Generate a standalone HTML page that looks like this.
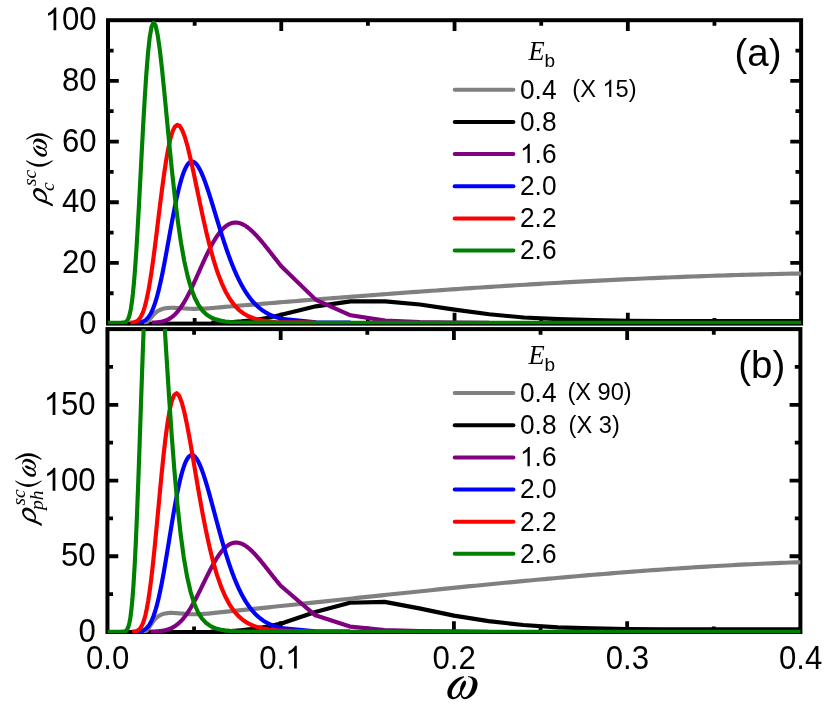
<!DOCTYPE html><html><head><meta charset="utf-8"><title>chart</title><style>html,body{margin:0;padding:0;background:#fff}svg{display:block}#w{will-change:transform;width:830px;height:710px;background:#fff}</style></head><body><div id="w"><svg width="830" height="710" viewBox="0 0 830 710">
<rect width="830" height="710" fill="#fff"/>
<defs><path id="om" d="M432,147 C300,150 140,300 133,435 C128,515 170,562 235,562 C295,562 345,525 372,478 C380,535 405,562 448,562 C560,562 678,430 678,285 C678,195 610,143 506,149 L502,163 C563,170 591,204 591,258 C591,365 515,527 452,527 C415,527 392,495 392,455 C400,400 470,330 470,262 C470,240 458,227 445,227 C415,227 358,330 362,405 C348,452 300,527 255,527 C225,527 212,500 212,455 C212,345 342,212 437,166 Z"/><clipPath id="ct"><rect x="108.0" y="20.2" width="693.7" height="304.1"/></clipPath><clipPath id="cb"><rect x="107.45" y="329.1" width="693.55" height="304.19999999999993"/></clipPath></defs>
<rect x="108.0" y="20.2" width="693.10" height="303.40" fill="none" stroke="#000" stroke-width="4"/>
<g stroke="#000" stroke-width="3.8" fill="none"><path d="M281.27,323.6 v-10.8 M281.27,20.2 v10.8"/><path d="M454.55,323.6 v-10.8 M454.55,20.2 v10.8"/><path d="M627.82,323.6 v-10.8 M627.82,20.2 v10.8"/><path d="M194.64,323.6 v-5.6 M194.64,20.2 v5.6"/><path d="M367.91,323.6 v-5.6 M367.91,20.2 v5.6"/><path d="M541.19,323.6 v-5.6 M541.19,20.2 v5.6"/><path d="M714.46,323.6 v-5.6 M714.46,20.2 v5.6"/><path d="M108.0,262.92 h10.8 M801.1,262.92 h-10.8"/><path d="M108.0,202.24 h10.8 M801.1,202.24 h-10.8"/><path d="M108.0,141.56 h10.8 M801.1,141.56 h-10.8"/><path d="M108.0,80.88 h10.8 M801.1,80.88 h-10.8"/><path d="M108.0,293.26 h5.6 M801.1,293.26 h-5.6"/><path d="M108.0,232.58 h5.6 M801.1,232.58 h-5.6"/><path d="M108.0,171.90 h5.6 M801.1,171.90 h-5.6"/><path d="M108.0,111.22 h5.6 M801.1,111.22 h-5.6"/><path d="M108.0,50.54 h5.6 M801.1,50.54 h-5.6"/></g>
<rect x="107.45" y="329.1" width="692.95" height="302.90" fill="none" stroke="#000" stroke-width="4"/>
<g stroke="#000" stroke-width="3.8" fill="none"><path d="M280.69,632.0 v-10.8 M280.69,329.1 v10.8"/><path d="M453.92,632.0 v-10.8 M453.92,329.1 v10.8"/><path d="M627.16,632.0 v-10.8 M627.16,329.1 v10.8"/><path d="M194.07,632.0 v-5.6 M194.07,329.1 v5.6"/><path d="M367.31,632.0 v-5.6 M367.31,329.1 v5.6"/><path d="M540.54,632.0 v-5.6 M540.54,329.1 v5.6"/><path d="M713.78,632.0 v-5.6 M713.78,329.1 v5.6"/><path d="M107.45,556.27 h10.8 M800.4,556.27 h-10.8"/><path d="M107.45,480.55 h10.8 M800.4,480.55 h-10.8"/><path d="M107.45,404.83 h10.8 M800.4,404.83 h-10.8"/><path d="M107.45,594.14 h5.6 M800.4,594.14 h-5.6"/><path d="M107.45,518.41 h5.6 M800.4,518.41 h-5.6"/><path d="M107.45,442.69 h5.6 M800.4,442.69 h-5.6"/><path d="M107.45,366.96 h5.6 M800.4,366.96 h-5.6"/></g>
<g>
<path d="M143.88,322.69 L144.59,322.61 L145.31,322.46 L146.03,322.26 L146.75,322.02 L147.46,321.69 L148.18,321.06 L148.90,320.24 L149.62,319.34 L150.33,318.45 L151.05,317.66 L151.77,316.84 L152.49,315.99 L153.20,315.14 L153.92,314.32 L154.64,313.56 L155.36,312.89 L156.07,312.31 L156.79,311.77 L157.51,311.27 L158.23,310.81 L158.94,310.40 L159.66,310.04 L160.38,309.73 L161.10,309.45 L161.81,309.18 L162.53,308.93 L163.25,308.72 L163.97,308.54 L164.68,308.40 L165.40,308.30 L166.12,308.20 L166.84,308.10 L167.55,308.02 L168.27,307.94 L168.99,307.88 L169.71,307.83 L170.42,307.79 L171.14,307.77 L171.86,307.77 L172.58,307.78 L173.29,307.79 L174.01,307.81 L174.73,307.84 L175.45,307.88 L176.16,307.92 L176.88,307.96 L177.60,308.00 L178.32,308.04 L179.03,308.09 L179.75,308.13 L180.47,308.17 L181.19,308.21 L181.90,308.25 L182.62,308.29 L183.34,308.33 L184.06,308.38 L184.77,308.43 L185.49,308.47 L186.21,308.52 L186.93,308.57 L187.64,308.62 L188.36,308.66 L189.08,308.71 L189.80,308.74 L190.51,308.77 L191.23,308.80 L191.95,308.82 L192.67,308.83 L193.39,308.83 L194.10,308.83 L194.82,308.83 L195.54,308.82 L196.26,308.81 L196.97,308.79 L197.69,308.78 L198.41,308.76 L199.13,308.74 L199.84,308.71 L200.56,308.69 L201.28,308.67 L202.00,308.64 L202.71,308.61 L203.43,308.59 L204.15,308.56 L204.87,308.53 L205.58,308.50 L206.30,308.46 L207.02,308.42 L207.74,308.38 L208.45,308.33 L209.17,308.28 L209.89,308.22 L210.61,308.16 L211.32,308.10 L212.04,308.04 L212.76,307.97 L213.48,307.91 L214.19,307.84 L214.91,307.77 L219.84,307.35 L224.76,306.93 L229.69,306.52 L234.61,306.10 L239.54,305.69 L244.47,305.28 L249.39,304.87 L254.32,304.46 L259.24,304.05 L264.17,303.65 L269.10,303.24 L274.02,302.84 L278.95,302.43 L283.87,302.03 L288.80,301.63 L293.73,301.23 L298.65,300.84 L303.58,300.44 L308.50,300.05 L313.43,299.66 L318.36,299.27 L323.28,298.88 L328.21,298.49 L333.13,298.10 L338.06,297.72 L342.99,297.34 L347.91,296.96 L352.84,296.58 L357.76,296.20 L362.69,295.83 L367.62,295.46 L372.54,295.09 L377.47,294.72 L382.39,294.35 L387.32,293.98 L392.25,293.62 L397.17,293.26 L402.10,292.90 L407.02,292.55 L411.95,292.19 L416.88,291.84 L421.80,291.49 L426.73,291.14 L431.65,290.80 L436.58,290.45 L441.50,290.11 L446.43,289.77 L451.36,289.44 L456.28,289.10 L461.21,288.77 L466.13,288.44 L471.06,288.12 L475.99,287.79 L480.91,287.47 L485.84,287.16 L490.76,286.84 L495.69,286.53 L500.62,286.22 L505.54,285.91 L510.47,285.60 L515.39,285.30 L520.32,285.00 L525.25,284.70 L530.17,284.41 L535.10,284.12 L540.02,283.83 L544.95,283.55 L549.88,283.26 L554.80,282.98 L559.73,282.71 L564.65,282.43 L569.58,282.16 L574.51,281.90 L579.43,281.63 L584.36,281.37 L589.28,281.12 L594.21,280.86 L599.14,280.61 L604.06,280.36 L608.99,280.12 L613.91,279.88 L618.84,279.64 L623.77,279.40 L628.69,279.17 L633.62,278.95 L638.54,278.72 L643.47,278.50 L648.40,278.28 L653.32,278.07 L658.25,277.86 L663.17,277.66 L668.10,277.45 L673.03,277.25 L677.95,277.06 L682.88,276.87 L687.80,276.68 L692.73,276.50 L697.65,276.32 L702.58,276.14 L707.51,275.97 L712.43,275.80 L717.36,275.63 L722.28,275.47 L727.21,275.32 L732.14,275.17 L737.06,275.02 L741.99,274.87 L746.91,274.73 L751.84,274.60 L756.77,274.46 L761.69,274.34 L766.62,274.21 L771.54,274.09 L776.47,273.98 L781.40,273.87 L786.32,273.76 L791.25,273.66 L796.17,273.56 L801.10,273.47" fill="none" stroke="#808080" stroke-width="4.15" stroke-linejoin="round" stroke-linecap="butt" clip-path="url(#ct)"/>
<path d="M211.38,322.63 L212.84,322.61 L214.29,322.58 L215.75,322.56 L217.21,322.53 L218.66,322.50 L220.12,322.47 L221.58,322.44 L223.03,322.40 L224.49,322.36 L225.94,322.31 L227.40,322.26 L228.86,322.20 L230.31,322.14 L231.77,322.07 L233.22,321.98 L234.68,321.89 L236.14,321.79 L237.59,321.68 L239.05,321.57 L240.50,321.45 L241.96,321.32 L243.42,321.19 L244.87,321.05 L246.33,320.91 L247.78,320.76 L249.24,320.60 L250.70,320.43 L252.15,320.25 L253.61,320.06 L255.07,319.85 L256.52,319.64 L257.98,319.42 L259.43,319.20 L260.89,318.96 L262.35,318.72 L263.80,318.48 L265.26,318.23 L266.71,317.97 L268.17,317.70 L269.63,317.42 L271.08,317.12 L272.54,316.82 L273.99,316.51 L275.45,316.19 L276.91,315.86 L278.36,315.52 L279.82,315.17 L281.27,314.82 L315.93,306.34 L350.59,301.34 L385.24,301.34 L419.89,304.52 L454.55,309.67 L489.20,314.22 L523.86,317.55 L558.52,319.06 L593.17,320.12 L627.82,320.73 L662.48,321.03 L731.79,321.19 L801.10,321.19" fill="none" stroke="#000000" stroke-width="4.15" stroke-linejoin="round" stroke-linecap="butt" clip-path="url(#ct)"/>
<path d="M151.75,322.62 L152.19,322.61 L152.62,322.60 L153.05,322.58 L153.48,322.56 L153.92,322.55 L154.35,322.53 L154.78,322.50 L155.22,322.48 L155.65,322.45 L156.08,322.42 L156.52,322.38 L156.95,322.35 L157.38,322.31 L157.82,322.26 L158.25,322.22 L158.68,322.16 L159.12,322.11 L159.55,322.04 L159.98,321.98 L160.42,321.91 L160.85,321.83 L161.28,321.75 L161.72,321.66 L162.15,321.56 L162.58,321.46 L163.01,321.35 L163.45,321.23 L163.88,321.11 L164.31,320.98 L164.75,320.83 L165.18,320.68 L165.61,320.53 L166.05,320.36 L166.48,320.18 L166.91,320.00 L167.35,319.80 L167.78,319.59 L168.21,319.37 L168.65,319.14 L169.08,318.90 L169.51,318.65 L169.95,318.39 L170.38,318.11 L170.81,317.83 L171.25,317.53 L171.68,317.21 L172.11,316.89 L172.54,316.55 L172.98,316.20 L173.41,315.83 L173.84,315.45 L174.28,315.06 L174.71,314.65 L175.14,314.23 L175.58,313.79 L176.01,313.34 L176.44,312.87 L176.88,312.39 L177.31,311.90 L177.74,311.39 L178.18,310.87 L178.61,310.33 L179.04,309.78 L179.48,309.21 L179.91,308.63 L180.34,308.03 L180.78,307.42 L181.21,306.80 L181.64,306.16 L182.08,305.51 L182.51,304.84 L182.94,304.16 L183.37,303.47 L183.81,302.76 L184.24,302.04 L184.67,301.30 L185.11,300.56 L185.54,299.80 L185.97,299.02 L186.41,298.24 L186.84,297.44 L187.27,296.64 L187.71,295.82 L188.14,294.99 L188.57,294.15 L189.01,293.30 L189.44,292.44 L189.87,291.57 L190.31,290.69 L190.74,289.80 L191.17,288.91 L191.61,288.00 L192.04,287.09 L192.47,286.17 L192.90,285.25 L193.34,284.32 L193.77,283.38 L194.20,282.44 L194.64,281.49 L195.07,280.54 L195.50,279.58 L195.94,278.62 L196.37,277.66 L196.80,276.69 L197.24,275.72 L197.67,274.75 L198.10,273.78 L198.54,272.81 L198.97,271.83 L199.40,270.86 L199.84,269.89 L200.27,268.92 L200.70,267.94 L201.14,266.98 L201.57,266.01 L202.00,265.04 L202.43,264.08 L202.87,263.12 L203.30,262.17 L203.73,261.22 L204.17,260.28 L204.60,259.34 L205.03,258.40 L205.47,257.47 L205.90,256.55 L206.33,255.64 L206.77,254.73 L207.20,253.83 L207.63,252.94 L208.07,252.05 L208.50,251.18 L208.93,250.31 L209.37,249.45 L209.80,248.61 L210.23,247.77 L210.67,246.94 L211.10,246.12 L211.53,245.32 L211.96,244.52 L212.40,243.74 L212.83,242.97 L213.26,242.21 L213.70,241.46 L214.13,240.73 L214.56,240.01 L215.00,239.30 L215.43,238.60 L215.86,237.92 L216.30,237.25 L216.73,236.59 L217.16,235.95 L217.60,235.32 L218.03,234.71 L218.46,234.11 L218.90,233.53 L219.33,232.96 L219.76,232.40 L220.20,231.86 L220.63,231.33 L221.06,230.82 L221.50,230.33 L221.93,229.85 L222.36,229.38 L222.79,228.94 L223.23,228.50 L223.66,228.08 L224.09,227.68 L224.53,227.29 L224.96,226.92 L225.39,226.56 L225.83,226.22 L226.26,225.90 L226.69,225.59 L227.13,225.29 L227.56,225.02 L227.99,224.75 L228.43,224.50 L228.86,224.27 L229.29,224.05 L229.73,223.85 L230.16,223.67 L230.59,223.49 L231.03,223.34 L231.46,223.20 L231.89,223.07 L232.32,222.96 L232.76,222.86 L233.19,222.78 L233.62,222.71 L234.06,222.65 L234.49,222.61 L234.92,222.59 L235.36,222.58 L235.79,222.58 L236.22,222.59 L236.66,222.62 L237.09,222.67 L237.52,222.72 L237.96,222.79 L238.39,222.87 L238.82,222.97 L239.26,223.08 L239.69,223.20 L240.12,223.33 L240.56,223.47 L240.99,223.63 L241.42,223.80 L241.85,223.98 L242.29,224.17 L242.72,224.37 L243.15,224.59 L243.59,224.81 L244.02,225.05 L244.45,225.29 L244.89,225.55 L245.32,225.82 L245.75,226.09 L246.19,226.38 L246.62,226.68 L247.05,226.98 L247.49,227.30 L247.92,227.62 L248.35,227.95 L248.79,228.30 L249.22,228.65 L249.65,229.00 L250.09,229.37 L250.52,229.74 L250.95,230.13 L251.39,230.52 L251.82,230.91 L252.25,231.32 L252.68,231.73 L253.12,232.15 L253.55,232.57 L253.98,233.00 L254.42,233.44 L254.85,233.88 L255.28,234.33 L255.72,234.79 L256.15,235.25 L256.58,235.72 L257.02,236.19 L257.45,236.66 L257.88,237.14 L258.32,237.63 L258.75,238.12 L259.18,238.61 L259.62,239.11 L260.05,239.62 L260.48,240.12 L260.92,240.63 L261.35,241.15 L261.78,241.66 L262.21,242.18 L262.65,242.71 L263.08,243.23 L263.51,243.76 L263.95,244.29 L264.38,244.83 L264.81,245.36 L265.25,245.90 L265.68,246.44 L266.11,246.98 L266.55,247.52 L266.98,248.07 L267.41,248.62 L267.85,249.16 L268.28,249.71 L268.71,250.26 L269.15,250.82 L269.58,251.37 L270.01,251.92 L270.45,252.47 L270.88,253.03 L271.31,253.58 L271.74,254.13 L272.18,254.69 L272.61,255.24 L273.04,255.80 L273.48,256.35 L273.91,256.90 L274.34,257.46 L274.78,258.01 L275.21,258.56 L275.64,259.11 L276.08,259.66 L276.51,260.21 L276.94,260.76 L277.38,261.31 L277.81,261.86 L278.24,262.40 L278.68,262.95 L279.11,263.49 L279.54,264.03 L279.98,264.57 L280.41,265.11 L280.84,265.64 L281.27,266.18 L315.93,299.87 L350.58,315.29 L385.24,320.60 L419.89,322.15 L454.55,322.57 L489.20,322.70" fill="none" stroke="#800080" stroke-width="4.15" stroke-linejoin="round" stroke-linecap="butt" clip-path="url(#ct)"/>
<path d="M136.16,322.63 L136.59,322.61 L137.02,322.58 L137.46,322.56 L137.89,322.53 L138.32,322.49 L138.76,322.44 L139.19,322.39 L139.62,322.33 L140.06,322.26 L140.49,322.18 L140.92,322.09 L141.36,321.98 L141.79,321.86 L142.22,321.72 L142.66,321.57 L143.09,321.40 L143.52,321.21 L143.95,320.99 L144.39,320.75 L144.82,320.49 L145.25,320.20 L145.69,319.88 L146.12,319.54 L146.55,319.16 L146.99,318.74 L147.42,318.30 L147.85,317.81 L148.29,317.29 L148.72,316.72 L149.15,316.11 L149.59,315.46 L150.02,314.77 L150.45,314.03 L150.89,313.24 L151.32,312.41 L151.75,311.52 L152.19,310.58 L152.62,309.60 L153.05,308.56 L153.48,307.46 L153.92,306.32 L154.35,305.11 L154.78,303.86 L155.22,302.55 L155.65,301.19 L156.08,299.77 L156.52,298.30 L156.95,296.77 L157.38,295.19 L157.82,293.56 L158.25,291.88 L158.68,290.14 L159.12,288.36 L159.55,286.53 L159.98,284.65 L160.42,282.72 L160.85,280.76 L161.28,278.74 L161.72,276.69 L162.15,274.60 L162.58,272.47 L163.01,270.31 L163.45,268.11 L163.88,265.88 L164.31,263.63 L164.75,261.34 L165.18,259.04 L165.61,256.71 L166.05,254.36 L166.48,252.00 L166.91,249.63 L167.35,247.24 L167.78,244.85 L168.21,242.44 L168.65,240.04 L169.08,237.64 L169.51,235.23 L169.95,232.84 L170.38,230.45 L170.81,228.07 L171.25,225.70 L171.68,223.35 L172.11,221.01 L172.54,218.69 L172.98,216.40 L173.41,214.13 L173.84,211.89 L174.28,209.68 L174.71,207.50 L175.14,205.35 L175.58,203.24 L176.01,201.17 L176.44,199.13 L176.88,197.14 L177.31,195.19 L177.74,193.28 L178.18,191.43 L178.61,189.61 L179.04,187.85 L179.48,186.14 L179.91,184.48 L180.34,182.87 L180.78,181.32 L181.21,179.82 L181.64,178.38 L182.08,177.00 L182.51,175.67 L182.94,174.40 L183.37,173.19 L183.81,172.04 L184.24,170.94 L184.67,169.91 L185.11,168.94 L185.54,168.03 L185.97,167.18 L186.41,166.39 L186.84,165.66 L187.27,164.99 L187.71,164.38 L188.14,163.84 L188.57,163.35 L189.01,162.92 L189.44,162.55 L189.87,162.24 L190.31,161.99 L190.74,161.79 L191.17,161.65 L191.61,161.57 L192.04,161.55 L192.47,161.57 L192.90,161.66 L193.34,161.79 L193.77,161.98 L194.20,162.22 L194.64,162.51 L195.07,162.85 L195.50,163.24 L195.94,163.67 L196.37,164.15 L196.80,164.68 L197.24,165.25 L197.67,165.86 L198.10,166.52 L198.54,167.22 L198.97,167.96 L199.40,168.73 L199.84,169.54 L200.27,170.39 L200.70,171.28 L201.14,172.20 L201.57,173.15 L202.00,174.13 L202.43,175.14 L202.87,176.19 L203.30,177.26 L203.73,178.36 L204.17,179.48 L204.60,180.63 L205.03,181.80 L205.47,182.99 L205.90,184.21 L206.33,185.44 L206.77,186.70 L207.20,187.97 L207.63,189.26 L208.07,190.57 L208.50,191.89 L208.93,193.22 L209.37,194.57 L209.80,195.93 L210.23,197.29 L210.67,198.67 L211.10,200.06 L211.53,201.46 L211.96,202.86 L212.40,204.27 L212.83,205.69 L213.26,207.11 L213.70,208.53 L214.13,209.96 L214.56,211.38 L215.00,212.81 L215.43,214.24 L215.86,215.68 L216.30,217.11 L216.73,218.53 L217.16,219.96 L217.60,221.38 L218.03,222.80 L218.46,224.22 L218.90,225.63 L219.33,227.04 L219.76,228.44 L220.20,229.84 L220.63,231.23 L221.06,232.61 L221.50,233.98 L221.93,235.35 L222.36,236.71 L222.79,238.06 L223.23,239.40 L223.66,240.73 L224.09,242.05 L224.53,243.36 L224.96,244.66 L225.39,245.95 L225.83,247.23 L226.26,248.50 L226.69,249.76 L227.13,251.00 L227.56,252.23 L227.99,253.46 L228.43,254.66 L228.86,255.86 L229.29,257.04 L229.73,258.21 L230.16,259.37 L230.59,260.51 L231.03,261.64 L231.46,262.76 L231.89,263.86 L232.32,264.95 L232.76,266.03 L233.19,267.09 L233.62,268.14 L234.06,269.18 L234.49,270.20 L234.92,271.21 L235.36,272.20 L235.79,273.18 L236.22,274.15 L236.66,275.10 L237.09,276.04 L237.52,276.97 L237.96,277.88 L238.39,278.78 L238.82,279.66 L239.26,280.54 L239.69,281.39 L240.12,282.24 L240.56,283.07 L240.99,283.89 L241.42,284.69 L241.85,285.48 L242.29,286.26 L242.72,287.03 L243.15,287.78 L243.59,288.52 L244.02,289.25 L244.45,289.96 L244.89,290.67 L245.32,291.36 L245.75,292.04 L246.19,292.70 L246.62,293.36 L247.05,294.00 L247.49,294.63 L247.92,295.25 L248.35,295.86 L248.79,296.46 L249.22,297.04 L249.65,297.62 L250.09,298.18 L250.52,298.73 L250.95,299.28 L251.39,299.81 L251.82,300.33 L252.25,300.84 L252.68,301.34 L253.12,301.83 L253.55,302.32 L253.98,302.79 L254.42,303.25 L254.85,303.71 L255.28,304.15 L255.72,304.59 L256.15,305.01 L256.58,305.43 L257.02,305.84 L257.45,306.24 L257.88,306.63 L258.32,307.02 L258.75,307.39 L259.18,307.76 L259.62,308.12 L260.05,308.47 L260.48,308.82 L260.92,309.15 L261.35,309.48 L261.78,309.81 L262.21,310.12 L262.65,310.43 L263.08,310.73 L263.51,311.03 L263.95,311.32 L264.38,311.60 L264.81,311.88 L265.25,312.15 L265.68,312.41 L266.11,312.67 L266.55,312.92 L266.98,313.16 L267.41,313.41 L267.85,313.64 L268.28,313.87 L268.71,314.09 L269.15,314.31 L269.58,314.53 L270.01,314.74 L270.45,314.94 L270.88,315.14 L271.31,315.33 L271.74,315.52 L272.18,315.71 L272.61,315.89 L273.04,316.07 L273.48,316.24 L273.91,316.41 L274.34,316.57 L274.78,316.73 L275.21,316.89 L275.64,317.04 L276.08,317.19 L276.51,317.34 L276.94,317.48 L277.38,317.62 L277.81,317.75 L278.24,317.88 L278.68,318.01 L279.11,318.14 L279.54,318.26 L279.98,318.38 L280.41,318.49 L280.84,318.61 L281.27,318.72 L315.93,322.31 L350.58,322.67" fill="none" stroke="#0000ff" stroke-width="4.15" stroke-linejoin="round" stroke-linecap="butt" clip-path="url(#ct)"/>
<path d="M130.32,322.65 L131.12,322.62 L131.95,322.56 L132.81,322.47 L133.71,322.34 L134.63,322.12 L135.59,321.80 L136.59,321.34 L137.61,320.66 L138.68,319.71 L139.79,318.40 L140.93,316.63 L142.12,314.27 L143.34,311.20 L144.62,307.27 L145.93,302.36 L147.30,296.32 L148.71,289.04 L150.18,280.45 L151.70,270.50 L153.27,259.24 L154.90,246.74 L156.59,233.20 L158.34,218.86 L160.15,204.08 L162.03,189.25 L163.97,174.86 L165.99,161.41 L168.08,149.42 L170.24,139.37 L172.48,131.71 L174.80,126.79 L177.21,124.84 L179.70,125.98 L182.28,130.19 L184.95,137.30 L187.72,147.00 L190.59,158.90 L193.57,172.51 L196.65,187.29 L199.84,202.68 L203.14,218.17 L206.57,233.25 L210.12,247.54 L213.79,260.70 L217.60,272.52 L221.55,282.86 L225.64,291.69 L229.87,299.05 L234.26,305.04 L238.80,309.79 L243.51,313.47 L248.39,316.24 L253.45,318.29 L258.68,319.76 L264.11,320.79 L269.73,321.49 L275.55,321.95 L315.93,322.68" fill="none" stroke="#ff0000" stroke-width="4.15" stroke-linejoin="round" stroke-linecap="butt" clip-path="url(#ct)"/>
<path d="M108.00,322.70 L115.14,322.70 L115.46,322.70 L115.79,322.70 L116.13,322.70 L116.49,322.70 L116.86,322.70 L117.25,322.70 L117.66,322.70 L118.08,322.70 L118.52,322.70 L118.99,322.70 L119.47,322.70 L119.98,322.70 L120.50,322.70 L121.05,322.70 L121.63,322.69 L122.23,322.68 L122.85,322.65 L123.51,322.60 L124.19,322.50 L124.90,322.31 L125.64,321.99 L126.42,321.43 L127.23,320.52 L128.08,319.08 L128.96,316.87 L129.88,313.59 L130.85,308.90 L131.85,302.39 L132.90,293.65 L134.00,282.28 L135.14,267.98 L136.34,250.55 L137.58,230.01 L138.88,206.60 L140.24,180.86 L141.66,153.60 L143.14,125.90 L144.69,99.02 L146.30,74.36 L147.99,53.28 L149.75,37.03 L151.58,26.60 L153.50,22.62 L155.50,25.33 L157.59,34.51 L159.78,49.55 L162.05,69.50 L164.43,93.15 L166.92,119.17 L169.51,146.23 L172.21,173.09 L175.04,198.69 L177.99,222.22 L181.07,243.13 L184.28,261.12 L187.64,276.15 L191.15,288.33 L194.80,297.93 L198.62,305.27 L202.61,310.73 L206.77,314.69 L211.12,317.47 L215.66,319.37 L220.39,320.63 L225.34,321.45 L230.50,321.97 L235.89,322.28 L241.52,322.47 L247.39,322.57 L253.53,322.63 L259.93,322.67 L266.62,322.68 L273.59,322.69 L280.88,322.70 L315.93,322.70 L350.58,322.70 L385.24,322.70 L419.89,322.70 L454.55,322.70 L489.20,322.70 L523.86,322.70 L558.51,322.70 L593.17,322.70 L627.82,322.70 L662.48,322.70 L697.13,322.70 L731.79,322.70 L766.44,322.70 L801.10,322.70" fill="none" stroke="#008000" stroke-width="4.15" stroke-linejoin="round" stroke-linecap="butt" clip-path="url(#ct)"/>
</g><g>
<path d="M143.32,631.69 L144.04,631.59 L144.75,631.40 L145.47,631.15 L146.19,630.85 L146.91,630.43 L147.62,629.64 L148.34,628.61 L149.06,627.47 L149.77,626.36 L150.49,625.36 L151.21,624.32 L151.93,623.25 L152.64,622.19 L153.36,621.16 L154.08,620.20 L154.80,619.36 L155.51,618.63 L156.23,617.95 L156.95,617.32 L157.67,616.74 L158.38,616.23 L159.10,615.78 L159.82,615.39 L160.54,615.02 L161.25,614.68 L161.97,614.38 L162.69,614.11 L163.40,613.88 L164.12,613.71 L164.84,613.58 L165.56,613.45 L166.27,613.34 L166.99,613.23 L167.71,613.14 L168.43,613.05 L169.14,612.99 L169.86,612.94 L170.58,612.92 L171.30,612.91 L172.01,612.92 L172.73,612.94 L173.45,612.97 L174.17,613.01 L174.88,613.05 L175.60,613.10 L176.32,613.15 L177.03,613.20 L177.75,613.26 L178.47,613.32 L179.19,613.37 L179.90,613.42 L180.62,613.47 L181.34,613.52 L182.06,613.57 L182.77,613.62 L183.49,613.68 L184.21,613.74 L184.93,613.80 L185.64,613.86 L186.36,613.93 L187.08,613.99 L187.79,614.04 L188.51,614.09 L189.23,614.14 L189.95,614.18 L190.66,614.21 L191.38,614.24 L192.10,614.25 L192.82,614.26 L193.53,614.25 L194.25,614.25 L194.97,614.23 L195.69,614.22 L196.40,614.20 L197.12,614.18 L197.84,614.16 L198.56,614.13 L199.27,614.10 L199.99,614.08 L200.71,614.04 L201.42,614.01 L202.14,613.98 L202.86,613.94 L203.58,613.91 L204.29,613.87 L205.01,613.83 L205.73,613.79 L206.45,613.74 L207.16,613.68 L207.88,613.62 L208.60,613.56 L209.32,613.49 L210.03,613.41 L210.75,613.34 L211.47,613.26 L212.19,613.17 L212.90,613.09 L213.62,613.00 L214.34,612.91 L219.26,612.41 L224.19,611.91 L229.11,611.41 L234.04,610.90 L238.96,610.39 L243.89,609.88 L248.81,609.37 L253.74,608.86 L258.66,608.35 L263.59,607.83 L268.51,607.32 L273.44,606.80 L278.36,606.28 L283.29,605.76 L288.21,605.25 L293.14,604.73 L298.06,604.20 L302.99,603.68 L307.91,603.16 L312.84,602.64 L317.76,602.12 L322.69,601.59 L327.61,601.07 L332.54,600.55 L337.46,600.02 L342.38,599.50 L347.31,598.98 L352.23,598.45 L357.16,597.93 L362.08,597.41 L367.01,596.89 L371.93,596.37 L376.86,595.85 L381.78,595.33 L386.71,594.81 L391.63,594.29 L396.56,593.77 L401.48,593.26 L406.41,592.74 L411.33,592.23 L416.26,591.71 L421.18,591.20 L426.11,590.69 L431.03,590.19 L435.96,589.68 L440.88,589.17 L445.81,588.67 L450.73,588.17 L455.66,587.67 L460.58,587.17 L465.51,586.68 L470.43,586.18 L475.36,585.69 L480.28,585.20 L485.21,584.72 L490.13,584.23 L495.06,583.75 L499.98,583.27 L504.91,582.79 L509.83,582.32 L514.76,581.85 L519.68,581.38 L524.61,580.92 L529.53,580.46 L534.46,580.00 L539.38,579.54 L544.31,579.09 L549.23,578.64 L554.16,578.20 L559.08,577.76 L564.01,577.32 L568.93,576.89 L573.85,576.46 L578.78,576.03 L583.70,575.61 L588.63,575.19 L593.55,574.78 L598.48,574.37 L603.40,573.96 L608.33,573.56 L613.25,573.16 L618.18,572.77 L623.10,572.39 L628.03,572.00 L632.95,571.63 L637.88,571.25 L642.80,570.88 L647.73,570.52 L652.65,570.16 L657.58,569.81 L662.50,569.46 L667.43,569.12 L672.35,568.79 L677.28,568.45 L682.20,568.13 L687.13,567.81 L692.05,567.50 L696.98,567.19 L701.90,566.88 L706.83,566.59 L711.75,566.30 L716.68,566.01 L721.60,565.74 L726.53,565.47 L731.45,565.20 L736.38,564.94 L741.30,564.69 L746.23,564.44 L751.15,564.21 L756.08,563.97 L761.00,563.75 L765.93,563.53 L770.85,563.32 L775.78,563.12 L780.70,562.92 L785.63,562.73 L790.55,562.55 L795.48,562.37 L800.40,562.21" fill="none" stroke="#808080" stroke-width="4.15" stroke-linejoin="round" stroke-linecap="butt" clip-path="url(#cb)"/>
<path d="M210.81,631.64 L212.27,631.62 L213.72,631.59 L215.18,631.57 L216.63,631.54 L218.09,631.51 L219.54,631.48 L221.00,631.45 L222.46,631.41 L223.91,631.37 L225.37,631.31 L226.82,631.25 L228.28,631.19 L229.74,631.12 L231.19,631.04 L232.65,630.94 L234.10,630.84 L235.56,630.73 L237.01,630.61 L238.47,630.48 L239.93,630.35 L241.38,630.21 L242.84,630.06 L244.29,629.91 L245.75,629.76 L247.20,629.60 L248.66,629.43 L250.12,629.24 L251.57,629.04 L253.03,628.83 L254.48,628.62 L255.94,628.39 L257.40,628.16 L258.85,627.92 L260.31,627.67 L261.76,627.43 L263.22,627.18 L264.67,626.93 L266.13,626.67 L267.59,626.40 L269.04,626.12 L270.50,625.84 L271.95,625.55 L273.41,625.25 L274.86,624.95 L276.32,624.64 L277.78,624.32 L279.23,624.00 L280.69,623.67 L315.33,612.00 L349.98,602.76 L384.63,601.85 L419.28,608.37 L453.92,615.64 L488.57,621.10 L523.22,625.03 L557.87,627.31 L592.51,628.37 L627.16,628.97 L661.81,629.20 L731.10,629.28 L800.40,629.28" fill="none" stroke="#000000" stroke-width="4.15" stroke-linejoin="round" stroke-linecap="butt" clip-path="url(#cb)"/>
<path d="M150.33,631.63 L150.76,631.62 L151.19,631.61 L151.63,631.60 L152.06,631.59 L152.49,631.58 L152.92,631.56 L153.36,631.55 L153.79,631.53 L154.22,631.52 L154.66,631.50 L155.09,631.48 L155.52,631.46 L155.96,631.43 L156.39,631.41 L156.82,631.38 L157.26,631.35 L157.69,631.32 L158.12,631.28 L158.56,631.25 L158.99,631.21 L159.42,631.16 L159.85,631.12 L160.29,631.07 L160.72,631.02 L161.15,630.96 L161.59,630.90 L162.02,630.84 L162.45,630.77 L162.89,630.70 L163.32,630.62 L163.75,630.54 L164.19,630.46 L164.62,630.37 L165.05,630.27 L165.48,630.17 L165.92,630.06 L166.35,629.95 L166.78,629.83 L167.22,629.70 L167.65,629.57 L168.08,629.43 L168.52,629.28 L168.95,629.13 L169.38,628.97 L169.82,628.80 L170.25,628.62 L170.68,628.43 L171.11,628.24 L171.55,628.04 L171.98,627.83 L172.41,627.60 L172.85,627.37 L173.28,627.13 L173.71,626.88 L174.15,626.62 L174.58,626.35 L175.01,626.07 L175.45,625.78 L175.88,625.48 L176.31,625.17 L176.75,624.84 L177.18,624.51 L177.61,624.16 L178.04,623.80 L178.48,623.43 L178.91,623.05 L179.34,622.65 L179.78,622.24 L180.21,621.83 L180.64,621.39 L181.08,620.95 L181.51,620.50 L181.94,620.03 L182.38,619.55 L182.81,619.05 L183.24,618.55 L183.67,618.03 L184.11,617.49 L184.54,616.95 L184.97,616.39 L185.41,615.82 L185.84,615.24 L186.27,614.65 L186.71,614.04 L187.14,613.42 L187.57,612.79 L188.01,612.15 L188.44,611.49 L188.87,610.83 L189.30,610.15 L189.74,609.46 L190.17,608.76 L190.60,608.05 L191.04,607.33 L191.47,606.60 L191.90,605.85 L192.34,605.10 L192.77,604.34 L193.20,603.57 L193.64,602.79 L194.07,602.00 L194.50,601.20 L194.93,600.39 L195.37,599.58 L195.80,598.75 L196.23,597.92 L196.67,597.09 L197.10,596.25 L197.53,595.40 L197.97,594.54 L198.40,593.68 L198.83,592.82 L199.27,591.95 L199.70,591.08 L200.13,590.20 L200.57,589.32 L201.00,588.44 L201.43,587.56 L201.86,586.67 L202.30,585.78 L202.73,584.89 L203.16,584.00 L203.60,583.11 L204.03,582.22 L204.46,581.33 L204.90,580.45 L205.33,579.56 L205.76,578.68 L206.20,577.80 L206.63,576.92 L207.06,576.04 L207.49,575.17 L207.93,574.31 L208.36,573.45 L208.79,572.59 L209.23,571.74 L209.66,570.90 L210.09,570.06 L210.53,569.23 L210.96,568.40 L211.39,567.59 L211.83,566.78 L212.26,565.98 L212.69,565.19 L213.12,564.41 L213.56,563.64 L213.99,562.87 L214.42,562.12 L214.86,561.38 L215.29,560.65 L215.72,559.93 L216.16,559.23 L216.59,558.53 L217.02,557.85 L217.46,557.18 L217.89,556.52 L218.32,555.88 L218.76,555.25 L219.19,554.63 L219.62,554.03 L220.05,553.44 L220.49,552.86 L220.92,552.30 L221.35,551.76 L221.79,551.23 L222.22,550.71 L222.65,550.21 L223.09,549.72 L223.52,549.25 L223.95,548.80 L224.39,548.36 L224.82,547.94 L225.25,547.53 L225.68,547.14 L226.12,546.76 L226.55,546.40 L226.98,546.06 L227.42,545.73 L227.85,545.42 L228.28,545.13 L228.72,544.85 L229.15,544.59 L229.58,544.34 L230.02,544.11 L230.45,543.90 L230.88,543.70 L231.31,543.52 L231.75,543.36 L232.18,543.21 L232.61,543.07 L233.05,542.96 L233.48,542.86 L233.91,542.77 L234.35,542.70 L234.78,542.65 L235.21,542.61 L235.65,542.58 L236.08,542.58 L236.51,542.58 L236.95,542.60 L237.38,542.64 L237.81,542.69 L238.24,542.76 L238.68,542.83 L239.11,542.93 L239.54,543.04 L239.98,543.16 L240.41,543.29 L240.84,543.44 L241.28,543.60 L241.71,543.77 L242.14,543.96 L242.58,544.16 L243.01,544.37 L243.44,544.59 L243.87,544.83 L244.31,545.08 L244.74,545.34 L245.17,545.61 L245.61,545.89 L246.04,546.18 L246.47,546.48 L246.91,546.80 L247.34,547.12 L247.77,547.45 L248.21,547.79 L248.64,548.15 L249.07,548.51 L249.50,548.88 L249.94,549.26 L250.37,549.65 L250.80,550.04 L251.24,550.45 L251.67,550.86 L252.10,551.28 L252.54,551.70 L252.97,552.14 L253.40,552.58 L253.84,553.03 L254.27,553.48 L254.70,553.94 L255.13,554.41 L255.57,554.88 L256.00,555.36 L256.43,555.84 L256.87,556.33 L257.30,556.82 L257.73,557.32 L258.17,557.82 L258.60,558.33 L259.03,558.84 L259.47,559.35 L259.90,559.87 L260.33,560.39 L260.77,560.92 L261.20,561.45 L261.63,561.98 L262.06,562.51 L262.50,563.05 L262.93,563.58 L263.36,564.13 L263.80,564.67 L264.23,565.21 L264.66,565.76 L265.10,566.30 L265.53,566.85 L265.96,567.40 L266.40,567.95 L266.83,568.50 L267.26,569.06 L267.69,569.61 L268.13,570.16 L268.56,570.71 L268.99,571.27 L269.43,571.82 L269.86,572.37 L270.29,572.92 L270.73,573.47 L271.16,574.03 L271.59,574.58 L272.03,575.12 L272.46,575.67 L272.89,576.22 L273.32,576.77 L273.76,577.31 L274.19,577.85 L274.62,578.39 L275.06,578.93 L275.49,579.47 L275.92,580.01 L276.36,580.54 L276.79,581.07 L277.22,581.60 L277.66,582.13 L278.09,582.66 L278.52,583.18 L278.96,583.70 L279.39,584.22 L279.82,584.73 L280.25,585.25 L280.69,585.76 L315.33,615.32 L349.98,626.58 L384.63,630.04 L419.28,631.07 L453.92,631.40 L488.57,631.70" fill="none" stroke="#800080" stroke-width="4.15" stroke-linejoin="round" stroke-linecap="butt" clip-path="url(#cb)"/>
<path d="M136.03,631.63 L136.47,631.61 L136.90,631.59 L137.33,631.56 L137.77,631.53 L138.20,631.49 L138.63,631.45 L139.07,631.40 L139.50,631.34 L139.93,631.27 L140.37,631.20 L140.80,631.11 L141.23,631.01 L141.66,630.89 L142.10,630.76 L142.53,630.61 L142.96,630.44 L143.40,630.26 L143.83,630.05 L144.26,629.82 L144.70,629.56 L145.13,629.28 L145.56,628.97 L146.00,628.63 L146.43,628.26 L146.86,627.85 L147.29,627.41 L147.73,626.93 L148.16,626.40 L148.59,625.84 L149.03,625.24 L149.46,624.59 L149.89,623.89 L150.33,623.15 L150.76,622.35 L151.19,621.51 L151.63,620.61 L152.06,619.66 L152.49,618.65 L152.92,617.59 L153.36,616.47 L153.79,615.29 L154.22,614.05 L154.66,612.76 L155.09,611.40 L155.52,609.99 L155.96,608.51 L156.39,606.97 L156.82,605.38 L157.26,603.72 L157.69,602.01 L158.12,600.23 L158.56,598.40 L158.99,596.51 L159.42,594.57 L159.85,592.57 L160.29,590.51 L160.72,588.41 L161.15,586.25 L161.59,584.04 L162.02,581.79 L162.45,579.49 L162.89,577.15 L163.32,574.77 L163.75,572.36 L164.19,569.90 L164.62,567.41 L165.05,564.89 L165.48,562.35 L165.92,559.77 L166.35,557.18 L166.78,554.57 L167.22,551.93 L167.65,549.29 L168.08,546.63 L168.52,543.97 L168.95,541.30 L169.38,538.63 L169.82,535.96 L170.25,533.29 L170.68,530.63 L171.11,527.98 L171.55,525.35 L171.98,522.73 L172.41,520.13 L172.85,517.55 L173.28,514.99 L173.71,512.47 L174.15,509.97 L174.58,507.50 L175.01,505.08 L175.45,502.68 L175.88,500.33 L176.31,498.02 L176.75,495.76 L177.18,493.54 L177.61,491.37 L178.04,489.26 L178.48,487.19 L178.91,485.18 L179.34,483.23 L179.78,481.33 L180.21,479.50 L180.64,477.72 L181.08,476.01 L181.51,474.36 L181.94,472.77 L182.38,471.25 L182.81,469.79 L183.24,468.41 L183.67,467.09 L184.11,465.84 L184.54,464.65 L184.97,463.54 L185.41,462.50 L185.84,461.52 L186.27,460.62 L186.71,459.79 L187.14,459.02 L187.57,458.33 L188.01,457.70 L188.44,457.15 L188.87,456.66 L189.30,456.25 L189.74,455.90 L190.17,455.61 L190.60,455.40 L191.04,455.25 L191.47,455.16 L191.90,455.15 L192.34,455.19 L192.77,455.30 L193.20,455.46 L193.64,455.69 L194.07,455.98 L194.50,456.33 L194.93,456.73 L195.37,457.19 L195.80,457.71 L196.23,458.28 L196.67,458.90 L197.10,459.57 L197.53,460.30 L197.97,461.07 L198.40,461.89 L198.83,462.75 L199.27,463.66 L199.70,464.61 L200.13,465.61 L200.57,466.64 L201.00,467.71 L201.43,468.82 L201.86,469.97 L202.30,471.15 L202.73,472.36 L203.16,473.61 L203.60,474.88 L204.03,476.19 L204.46,477.52 L204.90,478.88 L205.33,480.26 L205.76,481.67 L206.20,483.09 L206.63,484.54 L207.06,486.01 L207.49,487.50 L207.93,489.01 L208.36,490.53 L208.79,492.06 L209.23,493.61 L209.66,495.17 L210.09,496.74 L210.53,498.32 L210.96,499.91 L211.39,501.51 L211.83,503.12 L212.26,504.73 L212.69,506.34 L213.12,507.96 L213.56,509.59 L213.99,511.21 L214.42,512.83 L214.86,514.46 L215.29,516.08 L215.72,517.70 L216.16,519.32 L216.59,520.94 L217.02,522.55 L217.46,524.16 L217.89,525.76 L218.32,527.36 L218.76,528.95 L219.19,530.53 L219.62,532.11 L220.05,533.68 L220.49,535.23 L220.92,536.78 L221.35,538.32 L221.79,539.85 L222.22,541.36 L222.65,542.87 L223.09,544.36 L223.52,545.84 L223.95,547.31 L224.39,548.76 L224.82,550.21 L225.25,551.63 L225.68,553.05 L226.12,554.45 L226.55,555.83 L226.98,557.21 L227.42,558.56 L227.85,559.90 L228.28,561.23 L228.72,562.54 L229.15,563.84 L229.58,565.12 L230.02,566.38 L230.45,567.63 L230.88,568.86 L231.31,570.08 L231.75,571.28 L232.18,572.46 L232.61,573.63 L233.05,574.78 L233.48,575.91 L233.91,577.03 L234.35,578.14 L234.78,579.22 L235.21,580.29 L235.65,581.35 L236.08,582.38 L236.51,583.41 L236.95,584.41 L237.38,585.40 L237.81,586.37 L238.24,587.33 L238.68,588.27 L239.11,589.20 L239.54,590.11 L239.98,591.01 L240.41,591.89 L240.84,592.75 L241.28,593.60 L241.71,594.44 L242.14,595.26 L242.58,596.06 L243.01,596.86 L243.44,597.63 L243.87,598.40 L244.31,599.14 L244.74,599.88 L245.17,600.60 L245.61,601.31 L246.04,602.00 L246.47,602.68 L246.91,603.35 L247.34,604.00 L247.77,604.64 L248.21,605.27 L248.64,605.89 L249.07,606.49 L249.50,607.08 L249.94,607.66 L250.37,608.23 L250.80,608.79 L251.24,609.33 L251.67,609.87 L252.10,610.39 L252.54,610.90 L252.97,611.40 L253.40,611.89 L253.84,612.37 L254.27,612.84 L254.70,613.30 L255.13,613.75 L255.57,614.19 L256.00,614.62 L256.43,615.05 L256.87,615.46 L257.30,615.86 L257.73,616.25 L258.17,616.64 L258.60,617.01 L259.03,617.38 L259.47,617.74 L259.90,618.09 L260.33,618.44 L260.77,618.77 L261.20,619.10 L261.63,619.42 L262.06,619.73 L262.50,620.04 L262.93,620.34 L263.36,620.63 L263.80,620.91 L264.23,621.19 L264.66,621.46 L265.10,621.73 L265.53,621.99 L265.96,622.24 L266.40,622.49 L266.83,622.73 L267.26,622.96 L267.69,623.19 L268.13,623.41 L268.56,623.63 L268.99,623.85 L269.43,624.05 L269.86,624.26 L270.29,624.45 L270.73,624.65 L271.16,624.83 L271.59,625.02 L272.03,625.20 L272.46,625.37 L272.89,625.54 L273.32,625.70 L273.76,625.87 L274.19,626.02 L274.62,626.18 L275.06,626.33 L275.49,626.47 L275.92,626.61 L276.36,626.75 L276.79,626.89 L277.22,627.02 L277.66,627.15 L278.09,627.27 L278.52,627.39 L278.96,627.51 L279.39,627.62 L279.82,627.74 L280.25,627.85 L280.69,627.95 L315.33,631.34 L349.98,631.67" fill="none" stroke="#0000ff" stroke-width="4.15" stroke-linejoin="round" stroke-linecap="butt" clip-path="url(#cb)"/>
<path d="M132.26,631.65 L133.15,631.60 L134.08,631.52 L135.04,631.39 L136.03,631.16 L137.06,630.80 L138.12,630.23 L139.23,629.36 L140.37,628.07 L141.56,626.20 L142.79,623.58 L144.06,619.99 L145.38,615.20 L146.74,608.98 L148.16,601.11 L149.62,591.39 L151.14,579.70 L152.71,566.03 L154.34,550.44 L156.03,533.17 L157.78,514.57 L159.59,495.16 L161.47,475.55 L163.41,456.48 L165.43,438.71 L167.51,423.02 L169.68,410.11 L171.92,400.58 L174.24,394.88 L176.64,393.25 L179.13,395.74 L181.71,402.18 L184.39,412.21 L187.16,425.32 L190.03,440.86 L193.00,458.14 L196.08,476.43 L199.27,495.05 L202.57,513.38 L206.00,530.90 L209.55,547.18 L213.22,561.96 L217.03,575.06 L220.97,586.42 L225.06,596.06 L229.29,604.08 L233.68,610.62 L238.23,615.86 L242.93,619.97 L247.81,623.15 L252.86,625.56 L258.10,627.35 L263.52,628.66 L269.14,629.61 L274.96,630.28 L315.33,631.60 L349.98,631.69" fill="none" stroke="#ff0000" stroke-width="4.15" stroke-linejoin="round" stroke-linecap="butt" clip-path="url(#cb)"/>
<path d="M107.45,631.70 L114.59,631.70 L114.91,631.70 L115.23,631.70 L115.58,631.70 L115.93,631.70 L116.31,631.70 L116.70,631.70 L117.10,631.70 L117.53,631.70 L117.97,631.70 L118.44,631.70 L118.92,631.70 L119.42,631.70 L119.95,631.70 L120.50,631.70 L121.07,631.70 L121.67,631.69 L122.30,631.68 L122.95,631.65 L123.64,631.59 L124.35,631.47 L125.09,631.24 L125.87,630.81 L126.68,630.05 L127.52,628.75 L128.41,626.62 L129.33,623.25 L130.29,618.13 L131.30,610.64 L132.35,600.08 L133.44,585.71 L134.59,566.88 L135.78,543.07 L137.03,514.09 L138.33,480.13 L139.69,441.87 L141.10,400.54 L142.58,357.87 L144.13,316.00 L145.74,277.32 L147.43,244.23 L149.19,218.90 L151.02,203.06 L152.94,197.75 L154.94,203.27 L157.03,219.11 L159.22,244.04 L161.49,276.28 L163.87,313.68 L166.35,353.94 L168.95,394.87 L171.65,434.55 L174.48,471.45 L177.42,504.50 L180.50,533.10 L183.72,557.04 L187.07,576.48 L190.58,591.80 L194.23,603.54 L198.05,612.27 L202.04,618.60 L206.20,623.07 L210.55,626.14 L215.08,628.19 L219.82,629.54 L224.76,630.39 L229.93,630.93 L235.31,631.25 L240.94,631.45 L246.81,631.56 L252.95,631.62 L259.35,631.66 L266.03,631.68 L273.01,631.69 L280.29,631.69 L315.33,631.70 L349.98,631.70 L384.63,631.70 L419.28,631.70 L453.92,631.70 L488.57,631.70 L523.22,631.70 L557.87,631.70 L592.51,631.70 L627.16,631.70 L661.81,631.70 L696.46,631.70 L731.10,631.70 L765.75,631.70 L800.40,631.70" fill="none" stroke="#008000" stroke-width="4.15" stroke-linejoin="round" stroke-linecap="butt" clip-path="url(#cb)"/>
</g>
<g font-family="Liberation Sans, sans-serif" fill="#000">
<path d="M454.7,89.80 H513.4" stroke="#808080" stroke-width="4" stroke-linecap="round"/><g transform="translate(520.00,98.70) scale(0.952,1)" font-size="27.6" ><text x="0.00" y="0" xml:space="preserve">0.4</text></g><path d="M454.7,121.95 H513.4" stroke="#000000" stroke-width="4" stroke-linecap="round"/><g transform="translate(520.00,130.85) scale(0.952,1)" font-size="27.6" ><text x="0.00" y="0" xml:space="preserve">0.8</text></g><path d="M454.7,154.10 H513.4" stroke="#800080" stroke-width="4" stroke-linecap="round"/><g transform="translate(520.00,163.00) scale(0.952,1)" font-size="27.6" ><path transform="translate(0.00,0) scale(0.01348,-0.01313)" d="M763,0H583V1147Q518,1085 412.5,1023T223,930V1104Q374,1175 487,1276T647,1472H763Z"/><text x="15.35" y="0" xml:space="preserve">.6</text></g><path d="M454.7,186.25 H513.4" stroke="#0000ff" stroke-width="4" stroke-linecap="round"/><g transform="translate(520.00,195.15) scale(0.952,1)" font-size="27.6" ><text x="0.00" y="0" xml:space="preserve">2.0</text></g><path d="M454.7,218.40 H513.4" stroke="#ff0000" stroke-width="4" stroke-linecap="round"/><g transform="translate(520.00,227.30) scale(0.952,1)" font-size="27.6" ><text x="0.00" y="0" xml:space="preserve">2.2</text></g><path d="M454.7,250.55 H513.4" stroke="#008000" stroke-width="4" stroke-linecap="round"/><g transform="translate(520.00,259.45) scale(0.952,1)" font-size="27.6" ><text x="0.00" y="0" xml:space="preserve">2.6</text></g><g transform="translate(572.30,97.10) scale(0.952,1)" font-size="24.8" ><text x="0.00" y="0">(X </text><path transform="translate(31.69,0) scale(0.01211,-0.01179)" d="M763,0H583V1147Q518,1085 412.5,1023T223,930V1104Q374,1175 487,1276T647,1472H763Z"/><text x="45.48" y="0" xml:space="preserve">5)</text></g>
<path d="M454.7,393.10 H513.4" stroke="#808080" stroke-width="4" stroke-linecap="round"/><g transform="translate(520.00,402.00) scale(0.952,1)" font-size="27.6" ><text x="0.00" y="0" xml:space="preserve">0.4</text></g><path d="M454.7,425.25 H513.4" stroke="#000000" stroke-width="4" stroke-linecap="round"/><g transform="translate(520.00,434.15) scale(0.952,1)" font-size="27.6" ><text x="0.00" y="0" xml:space="preserve">0.8</text></g><path d="M454.7,457.40 H513.4" stroke="#800080" stroke-width="4" stroke-linecap="round"/><g transform="translate(520.00,466.30) scale(0.952,1)" font-size="27.6" ><path transform="translate(0.00,0) scale(0.01348,-0.01313)" d="M763,0H583V1147Q518,1085 412.5,1023T223,930V1104Q374,1175 487,1276T647,1472H763Z"/><text x="15.35" y="0" xml:space="preserve">.6</text></g><path d="M454.7,489.55 H513.4" stroke="#0000ff" stroke-width="4" stroke-linecap="round"/><g transform="translate(520.00,498.45) scale(0.952,1)" font-size="27.6" ><text x="0.00" y="0" xml:space="preserve">2.0</text></g><path d="M454.7,521.70 H513.4" stroke="#ff0000" stroke-width="4" stroke-linecap="round"/><g transform="translate(520.00,530.60) scale(0.952,1)" font-size="27.6" ><text x="0.00" y="0" xml:space="preserve">2.2</text></g><path d="M454.7,553.85 H513.4" stroke="#008000" stroke-width="4" stroke-linecap="round"/><g transform="translate(520.00,562.75) scale(0.952,1)" font-size="27.6" ><text x="0.00" y="0" xml:space="preserve">2.6</text></g><g transform="translate(567.40,400.40) scale(0.952,1)" font-size="24.8" ><text x="0.00" y="0" xml:space="preserve">(X 90)</text></g><g transform="translate(568.60,432.55) scale(0.952,1)" font-size="24.8" ><text x="0.00" y="0" xml:space="preserve">(X 3)</text></g>
<g transform="translate(96.60,333.70) scale(0.952,1)" font-size="32.7" ><text x="-18.19" y="0" xml:space="preserve">0</text></g>
<g transform="translate(96.60,273.02) scale(0.952,1)" font-size="32.7" ><text x="-36.38" y="0" xml:space="preserve">20</text></g>
<g transform="translate(96.60,212.34) scale(0.952,1)" font-size="32.7" ><text x="-36.38" y="0" xml:space="preserve">40</text></g>
<g transform="translate(96.60,151.66) scale(0.952,1)" font-size="32.7" ><text x="-36.38" y="0" xml:space="preserve">60</text></g>
<g transform="translate(96.60,90.98) scale(0.952,1)" font-size="32.7" ><text x="-36.38" y="0" xml:space="preserve">80</text></g>
<g transform="translate(96.60,30.30) scale(0.952,1)" font-size="32.7" ><path transform="translate(-54.56,0) scale(0.01597,-0.01555)" d="M763,0H583V1147Q518,1085 412.5,1023T223,930V1104Q374,1175 487,1276T647,1472H763Z"/><text x="-36.38" y="0" xml:space="preserve">00</text></g>
<g transform="translate(95.70,642.10) scale(0.952,1)" font-size="32.7" ><text x="-18.19" y="0" xml:space="preserve">0</text></g>
<g transform="translate(95.70,566.38) scale(0.952,1)" font-size="32.7" ><text x="-36.38" y="0" xml:space="preserve">50</text></g>
<g transform="translate(95.70,490.65) scale(0.952,1)" font-size="32.7" ><path transform="translate(-54.56,0) scale(0.01597,-0.01555)" d="M763,0H583V1147Q518,1085 412.5,1023T223,930V1104Q374,1175 487,1276T647,1472H763Z"/><text x="-36.38" y="0" xml:space="preserve">00</text></g>
<g transform="translate(95.70,414.93) scale(0.952,1)" font-size="32.7" ><path transform="translate(-54.56,0) scale(0.01597,-0.01555)" d="M763,0H583V1147Q518,1085 412.5,1023T223,930V1104Q374,1175 487,1276T647,1472H763Z"/><text x="-36.38" y="0" xml:space="preserve">50</text></g>
<g transform="translate(107.65,668.60) scale(0.952,1)" font-size="32.7" ><text x="-22.73" y="0" xml:space="preserve">0.0</text></g>
<g transform="translate(280.89,668.60) scale(0.952,1)" font-size="32.7" ><text x="-22.73" y="0">0.</text><path transform="translate(4.54,0) scale(0.01597,-0.01555)" d="M763,0H583V1147Q518,1085 412.5,1023T223,930V1104Q374,1175 487,1276T647,1472H763Z"/></g>
<g transform="translate(454.12,668.60) scale(0.952,1)" font-size="32.7" ><text x="-22.73" y="0" xml:space="preserve">0.2</text></g>
<g transform="translate(627.36,668.60) scale(0.952,1)" font-size="32.7" ><text x="-22.73" y="0" xml:space="preserve">0.3</text></g>
<g transform="translate(800.60,668.60) scale(0.952,1)" font-size="32.7" ><text x="-22.73" y="0" xml:space="preserve">0.4</text></g>
<g transform="translate(734.40,66.20) scale(0.975,1)" font-size="39.5" ><text x="0.00" y="0" xml:space="preserve">(a)</text></g>
<g transform="translate(738.20,378.00) scale(0.975,1)" font-size="39.5" ><text x="0.00" y="0" xml:space="preserve">(b)</text></g>
</g>
<text x="528.6" y="60.4" font-family="Liberation Serif, serif" font-style="italic" font-size="26.5" fill="#000">E</text><text x="544.6" y="67.3" font-family="Liberation Sans, sans-serif" font-size="19" fill="#000">b</text>
<text x="528.6" y="363.79999999999995" font-family="Liberation Serif, serif" font-style="italic" font-size="26.5" fill="#000">E</text><text x="544.6" y="370.69999999999993" font-family="Liberation Sans, sans-serif" font-size="19" fill="#000">b</text>
<use href="#om" transform="translate(440,668) scale(0.05543)" fill="#000"/>
<g transform="translate(47,207) rotate(-90)" font-family="Liberation Serif, serif" font-style="italic" fill="#000"><text x="21" y="-11.5" font-size="19.5">sc</text><text x="16" y="7.3" font-size="19.5">c</text><g transform="translate(0.0,0)"><path d="M46,-21 Q34.4,-7.6 46,5.8 L46.7,5.3 Q38.9,-7.6 46.7,-20.5 Z"/><use href="#om" transform="translate(45.88,-18.69) scale(0.03326)"/><path d="M68,-21 Q79.6,-7.6 68,5.8 L67.3,5.3 Q75.1,-7.6 67.3,-20.5 Z"/></g></g>
<g transform="translate(36,526.5) rotate(-90)" font-family="Liberation Serif, serif" font-style="italic" fill="#000"><text x="21" y="-11.5" font-size="19.5">sc</text><text x="16.5" y="7.3" font-size="19.5">ph</text><g transform="translate(-0.6,0)"><path d="M46,-21 Q34.4,-7.6 46,5.8 L46.7,5.3 Q38.9,-7.6 46.7,-20.5 Z"/><use href="#om" transform="translate(45.88,-18.69) scale(0.03326)"/><path d="M68,-21 Q79.6,-7.6 68,5.8 L67.3,5.3 Q75.1,-7.6 67.3,-20.5 Z"/></g></g>
<path id="rho" transform="translate(26,182) scale(0.04227)" d="M640,565 L628,518 C570,490 520,465 478,443 C502,418 506,360 482,300 C447,215 350,143 265,143 C195,143 158,200 170,272 C183,352 250,422 340,457 C430,492 540,530 612,574 Z M455,423 C475,393 462,340 425,295 C385,247 325,214 277,214 C228,214 207,247 217,287 C230,337 285,385 345,405 C390,420 430,428 455,423 Z" fill="#000" fill-rule="evenodd"/>
<path transform="translate(15,501.5) scale(0.04227)" d="M640,565 L628,518 C570,490 520,465 478,443 C502,418 506,360 482,300 C447,215 350,143 265,143 C195,143 158,200 170,272 C183,352 250,422 340,457 C430,492 540,530 612,574 Z M455,423 C475,393 462,340 425,295 C385,247 325,214 277,214 C228,214 207,247 217,287 C230,337 285,385 345,405 C390,420 430,428 455,423 Z" fill="#000" fill-rule="evenodd"/>
</svg></div></body></html>
